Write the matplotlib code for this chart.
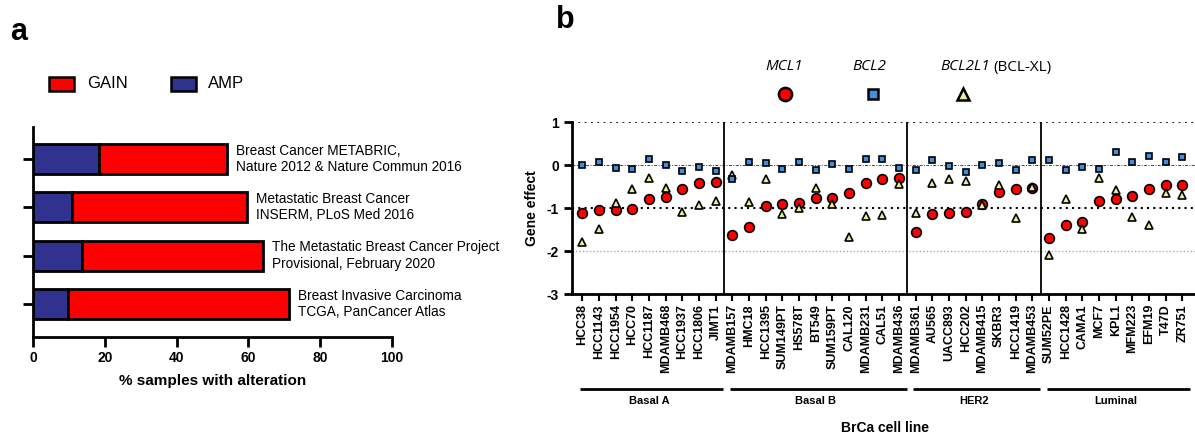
import matplotlib
matplotlib.use("Agg")
import matplotlib.pyplot as plt
from matplotlib.lines import Line2D
from matplotlib.patches import Rectangle

plt.rcParams['font.family'] = ['Liberation Sans', 'DejaVu Sans']

# panel a data
studies = ["Breast Cancer METABRIC,\nNature 2012 & Nature Commun 2016",
           "Metastatic Breast Cancer\nINSERM, PLoS Med 2016",
           "The Metastatic Breast Cancer Project\nProvisional, February 2020",
           "Breast Invasive Carcinoma\nTCGA, PanCancer Atlas"]
amp = [18.4, 10.7, 13.5, 9.8]
gain = [35.6, 49.0, 50.7, 61.6]

# panel b data
cell_lines = ["HCC38", "HCC1143", "HCC1954", "HCC70", "HCC1187", "MDAMB468", "HCC1937", "HCC1806", "JIMT1",
              "MDAMB157", "HMC18", "HCC1395", "SUM149PT", "HS578T", "BT549", "SUM159PT", "CAL120",
              "MDAMB231", "CAL51", "MDAMB436",
              "MDAMB361", "AU565", "UACC893", "HCC202", "MDAMB415", "SKBR3", "HCC1419", "MDAMB453",
              "SUM52PE", "HCC1428", "CAMA1", "MCF7", "KPL1", "MFM223", "EFM19", "T47D", "ZR751"]
group_names = ["Basal A", "Basal B", "HER2", "Luminal"]
group_sizes = [9, 11, 8, 9]

mcl1 = [-1.12, -1.05, -1.03, -1.02, -0.78, -0.73, -0.54, -0.42, -0.38,
        -1.61, -1.43, -0.95, -0.91, -0.88, -0.76, -0.75, -0.65, -0.41, -0.33, -0.29,
        -1.54, -1.14, -1.11, -1.09, -0.89, -0.63, -0.54, -0.52,
        -1.69, -1.40, -1.32, -0.83, -0.78, -0.71, -0.54, -0.46, -0.46]
bcl2 = [0.0, 0.08, -0.06, -0.08, 0.15, 0.0, -0.13, -0.05, -0.13,
        -0.33, 0.08, 0.06, -0.09, 0.08, -0.12, 0.04, -0.09, 0.15, 0.15, -0.07,
        -0.10, 0.12, -0.02, -0.16, 0.0, 0.06, -0.12, 0.12,
        0.12, -0.11, -0.04, -0.09, 0.32, 0.07, 0.22, 0.08, 0.20]
bcl2l1 = [-1.79, -1.48, -0.87, -0.54, -0.29, -0.52, -1.09, -0.92, -0.82,
          -0.23, -0.85, -0.31, -1.14, -1.00, -0.52, -0.91, -1.67, -1.19, -1.16, -0.44,
          -1.10, -0.41, -0.32, -0.37, -0.92, -0.45, -1.23, -0.51,
          -2.09, -0.78, -1.47, -0.30, -0.57, -1.20, -1.38, -0.65, -0.69]

RED = '#FF0000'
NAVY = '#31318F'
BLUE = '#3F8FE0'
YEL = '#EEEE99'

fig = plt.figure(figsize=(11.95, 4.34), dpi=100)

# ---------------- panel a ----------------
ax1 = fig.add_axes([0.0279, 0.2242, 0.2999, 0.4839])
ypos = [3, 2, 1, 0]
ax1.barh(ypos, amp, height=0.62, color=NAVY, edgecolor='black', linewidth=2)
ax1.barh(ypos, gain, left=amp, height=0.62, color=RED, edgecolor='black', linewidth=2)
for y, a, g, s in zip(ypos, amp, gain, studies):
    ax1.annotate(s, (a + g, y), xytext=(6.5, 0), textcoords='offset points',
                 ha='left', va='center', fontsize=9.8, linespacing=1.2)
ax1.set_xlim(0, 100)
ax1.set_ylim(-0.68, 3.67)
ax1.set_xticks([0, 20, 40, 60, 80, 100])
ax1.set_yticks(ypos)
ax1.set_yticklabels([])
for lab in ax1.get_xticklabels():
    lab.set_fontweight('bold')
    lab.set_fontsize(10)
ax1.tick_params(axis='both', length=7, width=2)
ax1.spines['top'].set_visible(False)
ax1.spines['right'].set_visible(False)
ax1.spines['left'].set_linewidth(2)
ax1.spines['bottom'].set_linewidth(2)
ax1.set_xlabel('% samples with alteration', fontsize=11, fontweight='bold', labelpad=6)

# legend for a
fig.add_artist(Rectangle((49 / 1195, 1 - 91 / 434), 25 / 1195, 14 / 434, transform=fig.transFigure,
                         facecolor=RED, edgecolor='black', linewidth=1.8))
fig.text(87 / 1195, 1 - 84 / 434, 'GAIN', fontsize=12, va='center', ha='left')
fig.add_artist(Rectangle((171 / 1195, 1 - 91 / 434), 25 / 1195, 14 / 434, transform=fig.transFigure,
                         facecolor=NAVY, edgecolor='black', linewidth=1.8))
fig.text(208 / 1195, 1 - 84 / 434, 'AMP', fontsize=12, va='center', ha='left')

fig.text(10 / 1195, 1 - 40 / 434, 'a', fontsize=22, fontweight='bold', ha='left', va='baseline')
fig.text(556 / 1195, 1 - 28 / 434, 'b', fontsize=22, fontweight='bold', ha='left', va='baseline')

# ---------------- panel b ----------------
ax2 = fig.add_axes([0.4789, 0.3219, 0.5211, 0.3963])
x = list(range(len(cell_lines)))

ax2.axhline(1, color='black', linestyle=(0, (1, 2.5)), linewidth=1.3, zorder=1)
ax2.axhline(0, color='#444444', linestyle=(0, (3, 1.5, 1, 1.5)), linewidth=0.7, zorder=1)
ax2.axhline(-1, color='black', linestyle=(0, (1, 2)), linewidth=1.5, zorder=1)
ax2.axhline(-2, color='#aaaaaa', linestyle=(0, (1, 1.5)), linewidth=1.0, zorder=1)

start = 0
for n in group_sizes[:-1]:
    start += n
    ax2.axvline(start - 0.5, color='black', linewidth=1.3, zorder=2)

ax2.plot(x, mcl1, linestyle='none', marker='o', markersize=7, markerfacecolor=RED,
         markeredgecolor='black', markeredgewidth=1.2, zorder=3)
ax2.plot(x, bcl2l1, linestyle='none', marker='^', markersize=6, markerfacecolor=YEL,
         markeredgecolor='black', markeredgewidth=1.2, zorder=4)
ax2.plot(x, bcl2, linestyle='none', marker='s', markersize=4.5, markerfacecolor=BLUE,
         markeredgecolor='black', markeredgewidth=1.2, zorder=5)

ax2.set_xlim(-0.6, 36.75)
ax2.set_ylim(-3, 1)
ax2.set_xticks(x)
ax2.set_xticklabels(cell_lines, rotation=90, fontsize=9, fontweight='bold')
ax2.set_yticks([-3, -2, -1, 0, 1])
ax2.set_yticklabels(['-3', '-2', '-1', '0', '1'], fontsize=10, fontweight='bold')
ax2.tick_params(axis='x', length=5, width=1.5, pad=2)
ax2.tick_params(axis='y', length=6, width=2)
ax2.spines['top'].set_visible(False)
ax2.spines['right'].set_visible(False)
ax2.spines['left'].set_linewidth(2)
ax2.spines['bottom'].set_linewidth(2)
ax2.set_ylabel('Gene effect', fontsize=10, fontweight='bold', labelpad=6)

# group bars and labels under the tick labels
trans = ax2.get_xaxis_transform()
start = 0
for name, n in zip(group_names, group_sizes):
    first, last = start, start + n - 1
    ax2.plot([first - 0.15, last + 0.45], [-0.55, -0.55], color='black', linewidth=2,
             transform=trans, clip_on=False, solid_capstyle='butt')
    ax2.text((first + last) / 2, -0.62, name, transform=trans, ha='center', va='center',
             fontsize=8, fontweight='bold')
    start += n

fig.text(885 / 1195, 1 - 428 / 434, 'BrCa cell line', fontsize=10, fontweight='bold',
         ha='center', va='center')

# legend for b
leg_font = ['Open Sans', 'DejaVu Sans']
fig.text(784 / 1195, 1 - 67 / 434, 'MCL1', fontsize=11, style='italic', family=leg_font,
         ha='center', va='center')
fig.text(869 / 1195, 1 - 67 / 434, 'BCL2', fontsize=11, style='italic', family=leg_font,
         ha='center', va='center')
t = fig.text(940 / 1195, 1 - 67 / 434, 'BCL2L1', fontsize=11, style='italic', family=leg_font,
             ha='left', va='center')
ax2.annotate('(BCL-XL)', xy=(1, 0.5), xycoords=t, xytext=(3, 0), textcoords='offset points',
             fontsize=11, family=leg_font, ha='left', va='center', annotation_clip=False)
fig.add_artist(Line2D([785 / 1195], [1 - 94 / 434], transform=fig.transFigure, marker='o',
                      markersize=9.5, markerfacecolor=RED, markeredgecolor='black',
                      markeredgewidth=1.8, linestyle='none'))
fig.add_artist(Line2D([873 / 1195], [1 - 94 / 434], transform=fig.transFigure, marker='s',
                      markersize=6.5, markerfacecolor=BLUE, markeredgecolor='black',
                      markeredgewidth=1.8, linestyle='none'))
fig.add_artist(Line2D([963 / 1195], [1 - 94 / 434], transform=fig.transFigure, marker='^',
                      markersize=9, markerfacecolor=YEL, markeredgecolor='black',
                      markeredgewidth=1.8, linestyle='none'))

fig.savefig('out.png', dpi=100)
